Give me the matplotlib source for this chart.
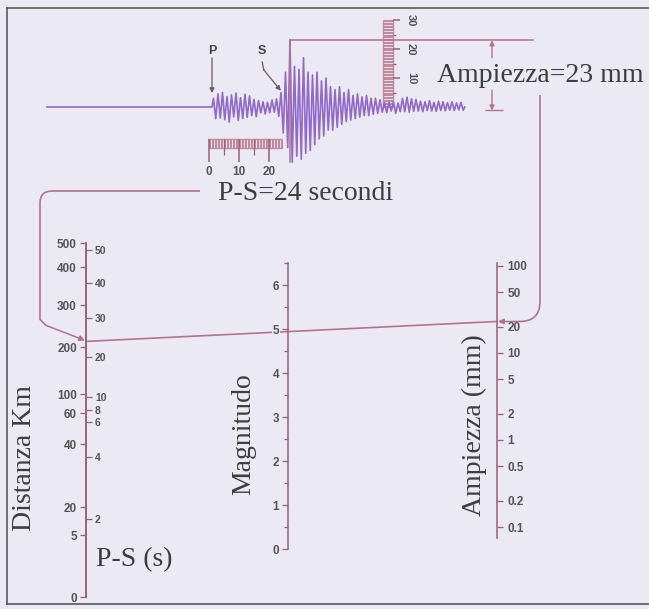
import numpy as np
import matplotlib
matplotlib.use("Agg")
from matplotlib import pyplot as plt
from matplotlib.path import Path
from matplotlib.patches import PathPatch
from matplotlib.ticker import MultipleLocator, NullLocator

W, H = 649, 609

# printed nomogram scales: tick value and its height above the foot of the scale (px)
dist_km = [0, 5, 20, 40, 60, 100, 200, 300, 400, 500]
dist_h = [0, 62, 90, 153, 184, 203, 250, 292, 330, 354]
ps_s = [0, 2, 4, 6, 8, 10, 20, 30, 40, 50, 52]
ps_h = [0, 78, 140, 175, 187, 200, 240, 279, 314, 347, 354]
ps_ticks = [2, 4, 6, 8, 10, 20, 30, 40, 50]
mag_ticks = [0, 1, 2, 3, 4, 5, 6]
amp_ticks = [0.1, 0.2, 0.5, 1, 2, 5, 10, 20, 50, 100]
amp_labels = ["0.1", "0.2", "0.5", "1", "2", "5", "10", "20", "50", "100"]

ps_read = 24    # s
amp_read = 23   # mm

# seismogram: successive half-cycle peaks in mm, one every 0.75 s after the P arrival
seis_peaks = [
    3.0, -4.0, 4.6, -3.8, 5.0, -4.4, 3.6, -5.2, 4.2, -3.4, 4.8, -4.6, 3.2, -4.0, 4.4, -3.6,
    3.8, -3.0, 2.6, -3.4, 2.2, -2.0, 1.8, -2.4, 1.6, -2.0, 2.4, -1.8, 2.8, -3.2, 5.0,
    -9, 12, -14, 23, -19, 14, -17, 13, -18, 17, -16, 12, -15, 11, -13, 12, -11, 9, -10, 10,
    -8, 7, -8, 6, -7, 7, -6, 5, -5, 6, -4.5, 4, -4, 4.5, -3.5, 3.5, -3, 4, -3, 3, -2.5, 3,
    -2.2, 2.5,
    -1.8, 1.5, -2.0, 1.6, -1.4, 1.8, -2.2, 1.4, -1.6, 3.0, -1.6, 3.4, -1.8, 2.8, -1.5, 2.6,
    -1.4, 2.0, -1.6, 1.8, -1.2, 2.2, -1.4, 1.6, -1.5, 2.0, -1.2, 1.8, -1.3, 1.5, -1.1, 1.8,
    -1.2, 1.4, -1.0, 1.6, -1.1,
]
p_time = 1.0
trace_start = -54.0

BG = "#ebe9f3"
LINE = "#b27290"
AXC = "#9a5f78"
SEIS = "#9168cc"
RULER = "#c08a9e"
TICKC = "#555555"
TEXTC = "#3d3d3d"

plt.rcParams["font.family"] = ["Liberation Sans", "DejaVu Sans"]
plt.rcParams["font.weight"] = "bold"

fig = plt.figure(figsize=(W / 100, H / 100), dpi=100)
fig.patch.set_facecolor(BG)


def rect(x0, y0, x1, y1):
    return [x0 / W, 1 - y1 / H, (x1 - x0) / W, (y1 - y0) / H]


ov = fig.add_axes([0, 0, 1, 1])
ov.set_xlim(0, W)
ov.set_ylim(H, 0)
ov.axis("off")

serif = dict(family=["Liberation Serif", "DejaVu Serif"], fontweight="normal", fontsize=20, color=TEXTC)

# frame
ov.plot([7, 7], [8, 604], color="#5a5a5a", lw=1.2)
ov.plot([7, W], [8, 8], color="#5a5a5a", lw=1.2)
ov.plot([7, W], [604, 604], color="#5a5a5a", lw=1.2)

# ---- seismogram, in seconds and mm
X0, PX_S, Y0, PX_MM = 209, 3.0, 107, 2.9
sa = fig.add_axes(rect(40, 10, 560, 175))
sa.set_xlim((40 - X0) / PX_S, (560 - X0) / PX_S)
sa.set_ylim((Y0 - 175) / PX_MM, (Y0 - 10) / PX_MM)
sa.axis("off")
sa.patch.set_visible(False)

t_peaks = p_time + 0.5 + 0.75 * np.arange(len(seis_peaks))
t = np.concatenate([[trace_start, p_time], t_peaks, [t_peaks[-1] + 0.5]])
y = np.concatenate([[0, 0], seis_peaks, [0]])

# horizontal time ruler (s)
r_top, r_bot = -11.2, -14.3
sa.vlines(np.arange(0, 24.6, 0.5), r_bot, r_top, color=RULER, lw=0.8)
sa.hlines([r_top, r_bot], -0.3, 24.3, color=RULER, lw=1.0)
sa.vlines([0, 10, 20], -19.0, r_top, color=AXC, lw=1.1)
sa.vlines([5, 15], -16.5, r_top, color=AXC, lw=0.9)
for v in [0, 10, 20]:
    sa.text(v, -22.4, str(v), ha="center", va="center", fontsize=8.5, color=TICKC)

# vertical amplitude ruler (mm)
rl, rr = 58.0, 61.3
sa.hlines(np.arange(0, 30.1, 0.5), rl, rr, color=RULER, lw=0.8)
sa.vlines([rl, rr], 0, 30, color=RULER, lw=1.0)
sa.hlines([10, 20, 30], rr, 63.7, color=AXC, lw=1.1)
sa.hlines([5, 15, 25], rr, 62.4, color=AXC, lw=0.9)
for v in [10, 20, 30]:
    sa.text(67.3, v, str(v), ha="center", va="center", rotation=-90, fontsize=8, color=TICKC)

sa.plot(t, y, color=SEIS, lw=1.2, zorder=3)

# maximum amplitude bracket
i_max = int(np.argmax(seis_peaks))
t_max = t_peaks[i_max]
sa.plot([t_max, t_max], [amp_read, min(seis_peaks)], color=LINE, lw=1.1, zorder=4)
sa.plot([t_max, (533 - X0) / PX_S], [amp_read, amp_read], color=LINE, lw=1.1, zorder=2)
t_dim = (492 - X0) / PX_S
arr = dict(arrowstyle="-|>", color=LINE, lw=1.0, mutation_scale=7, shrinkA=0, shrinkB=0)
sa.annotate("", xy=(t_dim, amp_read), xytext=(t_dim, amp_read - 6), arrowprops=arr)
sa.annotate("", xy=(t_dim, -1.2), xytext=(t_dim, 5.8), arrowprops=arr)
sa.hlines(-1.2, t_dim - 2.4, t_dim + 3.6, color=LINE, lw=1.0)

# P and S arrivals
pk = dict(arrowstyle="-|>", color="#6e5a66", lw=0.9, mutation_scale=7, shrinkA=0, shrinkB=0)
sa.text(p_time, 19.3, "P", ha="center", va="center", fontsize=9, color="#444444")
sa.annotate("", xy=(p_time, 4.8), xytext=(p_time, 16.9), arrowprops=pk)
t_s = p_time + 0.75 * 31
sa.text(t_s - 6.5, 19.3, "S", ha="center", va="center", fontsize=9, color="#444444")
sa.plot([t_s - 6.5, t_s - 6.0], [15.5, 12.8], color="#6e5a66", lw=0.9)
sa.annotate("", xy=(t_s - 0.3, 5.6), xytext=(t_s - 6.0, 12.8), arrowprops=pk)

ov.text(437, 76, f"Ampiezza={amp_read} mm", ha="left", va="center", **serif)
ov.text(218, 193, f"P-S={ps_read} secondi", ha="left", va="center", **serif)


# ---- nomogram scales
def scale_axes(x, y_top, y_bot, side):
    if side == "left":
        a = fig.add_axes(rect(x, y_top, x + 1, y_bot))
    else:
        a = fig.add_axes(rect(x - 1, y_top, x, y_bot))
    a.patch.set_visible(False)
    for s in a.spines.values():
        s.set_visible(False)
    a.spines[side].set_visible(True)
    a.spines[side].set_color(AXC)
    a.spines[side].set_linewidth(1.1)
    a.set_xlim(0, 1)
    a.set_xticks([])
    a.yaxis.set_ticks_position(side)
    a.tick_params(axis="y", which="both", color=AXC, labelcolor=TICKC, labelsize=8.5,
                  width=0.9, length=4.5, pad=2)
    return a


ax_d = scale_axes(86, 243, 597, "left")
ax_d.set_yscale("function", functions=(lambda v: np.interp(v, dist_km, dist_h),
                                       lambda h: np.interp(h, dist_h, dist_km)))
ax_d.set_ylim(0, 500)
ax_d.set_yticks(dist_km, labels=[str(v) for v in dist_km])
ax_d.yaxis.set_minor_locator(NullLocator())

ax_p = scale_axes(86, 243, 597, "right")
ax_p.set_yscale("function", functions=(lambda v: np.interp(v, ps_s, ps_h),
                                       lambda h: np.interp(h, ps_h, ps_s)))
ax_p.set_ylim(0, 52)
ax_p.set_yticks(ps_ticks, labels=[str(v) for v in ps_ticks])
ax_p.yaxis.set_minor_locator(NullLocator())
ax_p.tick_params(axis="y", labelsize=7.5)

ax_m = scale_axes(288, 263, 549, "left")
ax_m.set_ylim(0, 6.5)
ax_m.set_yticks(mag_ticks, labels=[str(v) for v in mag_ticks])
ax_m.yaxis.set_minor_locator(MultipleLocator(0.5))
ax_m.tick_params(axis="y", which="minor", length=3)
for lbl in ax_m.get_yticklabels():
    lbl.set_bbox(dict(facecolor=BG, edgecolor="none", pad=0.6))

ax_a = scale_axes(497, 263, 538, "right")
ax_a.set_yscale("log")
ax_a.set_ylim(0.0748, 108)
ax_a.set_yticks(amp_ticks, labels=amp_labels)
ax_a.yaxis.set_minor_locator(NullLocator())
ax_a.tick_params(axis="y", pad=3)

ov.text(25, 458, "Distanza Km", rotation=90, ha="center", va="center", **serif)
ov.text(96, 560, "P-S (s)", ha="left", va="center", **serif)
ov.text(244, 434, "Magnitudo", rotation=90, ha="center", va="center", **serif)
ov.text(474, 425, "Ampiezza (mm)", rotation=90, ha="center", va="center", **serif)

# ---- reading line through the nomogram
to_ov = ov.transData.inverted()
px, py = to_ov.transform(ax_p.transData.transform((1, ps_read)))
ax_, ay = to_ov.transform(ax_a.transData.transform((1, amp_read)))
ov.plot([px, ax_], [py, ay], color=LINE, lw=1.2)

arr2 = dict(arrowstyle="-|>", color=LINE, lw=1.1, mutation_scale=8, shrinkA=0, shrinkB=0)
left = Path([(200, 191), (52, 191), (40, 191), (40, 203), (40, py - 22), (46, py - 16)],
            [Path.MOVETO, Path.LINETO, Path.CURVE3, Path.CURVE3, Path.LINETO, Path.LINETO])
ov.add_patch(PathPatch(left, fill=False, edgecolor=LINE, lw=1.2))
ov.annotate("", xy=(px - 1, py - 1), xytext=(46, py - 16), arrowprops=arr2)

right = Path([(540, 95), (540, ay - 20), (540, ay), (520, ay)],
             [Path.MOVETO, Path.LINETO, Path.CURVE3, Path.CURVE3])
ov.add_patch(PathPatch(right, fill=False, edgecolor=LINE, lw=1.2))
ov.annotate("", xy=(ax_ + 1, ay), xytext=(520, ay), arrowprops=arr2)

fig.savefig("out.png", dpi=100, facecolor=BG)
